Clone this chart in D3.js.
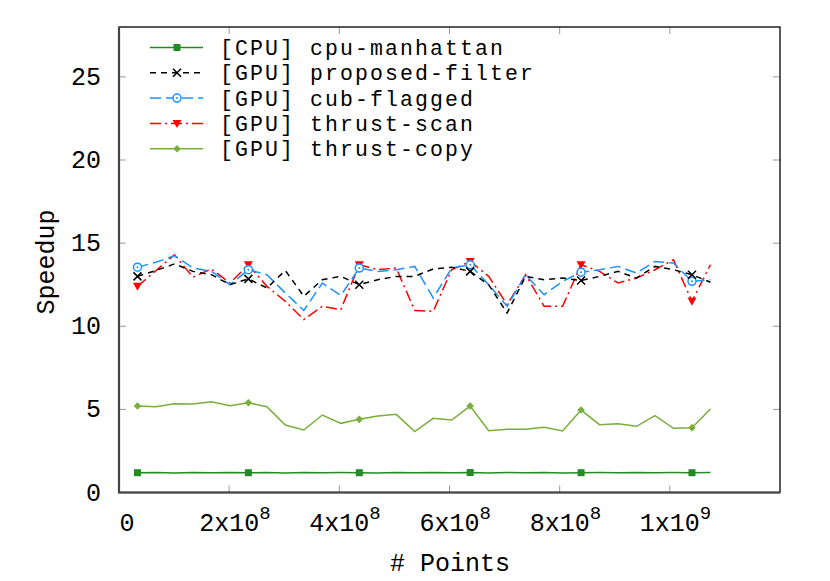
<!DOCTYPE html>
<html><head><meta charset="utf-8">
<script src="https://cdn.jsdelivr.net/npm/d3@7"></script>
<style>body{margin:0;background:#fff}svg{display:block}text{font-family:"Liberation Mono",monospace;fill:#000}</style>
</head><body><svg id="c" width="830" height="581"></svg>
<script>
const xValues = [33554432,67108864,100663296,134217728,167772160,201326592,234881024,268435456,301989888,335544320,369098752,402653184,436207616,469762048,503316480,536870912,570425344,603979776,637534208,671088640,704643072,738197504,771751936,805306368,838860800,872415232,905969664,939524096,973078528,1006632960,1040187392,1073741824];
const cpuManhattan = [1.19,1.20,1.18,1.20,1.19,1.21,1.19,1.20,1.18,1.20,1.19,1.20,1.19,1.18,1.20,1.19,1.21,1.19,1.20,1.18,1.20,1.19,1.20,1.18,1.19,1.20,1.19,1.21,1.19,1.20,1.19,1.21];
const proposedFilter = [13.0,13.35,13.75,13.3,13.1,12.5,12.85,12.3,13.35,11.8,12.8,13.0,12.5,12.8,13.0,13.0,13.45,13.55,13.3,12.5,10.8,13.0,12.8,12.9,12.75,13.0,13.3,12.9,13.6,13.4,13.1,12.65];
const cubFlagged = [13.55,13.85,14.25,13.5,13.3,12.5,13.4,13.1,12.0,10.95,12.6,11.85,13.5,13.3,13.4,13.6,11.7,13.5,13.7,12.5,11.2,13.1,11.9,12.7,13.25,13.4,13.6,13.2,13.9,13.8,12.7,12.8];
const thrustScan = [12.4,13.35,14.3,12.95,13.45,12.6,13.7,12.4,11.5,10.4,11.2,11.0,13.7,13.4,13.5,10.95,10.9,13.4,13.9,13.0,11.3,13.1,11.2,11.2,13.7,13.3,12.6,12.9,13.4,14.0,11.5,13.7];
const thrustCopy = [5.20,5.16,5.34,5.32,5.46,5.22,5.40,5.16,4.06,3.76,4.66,4.16,4.40,4.60,4.70,3.66,4.46,4.36,5.20,3.72,3.80,3.80,3.92,3.70,4.96,4.08,4.14,3.98,4.62,3.86,3.90,5.02];
const seriesNames = ["[CPU] cpu-manhattan","[GPU] proposed-filter","[GPU] cub-flagged","[GPU] thrust-scan","[GPU] thrust-copy"];
const yTicks = [0,5,10,15,20,25];
const xTicks = [0,2e8,4e8,6e8,8e8,1e9];
const xTickBase = ["0","2x10","4x10","6x10","8x10","1x10"];
const xTickExp = ["","8","8","8","8","9"];

const L=119,R=780,T=27,B=492.5;
const x=d3.scaleLinear().domain([0,1.2e9]).range([L,R]);
const y=d3.scaleLinear().domain([0,28]).range([B,T]);
const svg=d3.select("#c");

const styles=[
 {data:cpuManhattan,color:"#228b22",dash:null,marker:"square"},
 {data:proposedFilter,color:"#000000",dash:"6,5",marker:"x"},
 {data:cubFlagged,color:"#1e90ff",dash:"11,5",marker:"circle"},
 {data:thrustScan,color:"#ff0000",dash:"11,4,2,4",marker:"tri"},
 {data:thrustCopy,color:"#79ae3b",dash:null,marker:"diamond"}
];

// ticks (inward, mirrored)
const tg=svg.append("g").attr("stroke","#999").attr("stroke-width",1);
yTicks.forEach(v=>{
  tg.append("line").attr("x1",L).attr("x2",L+7).attr("y1",y(v)).attr("y2",y(v));
  tg.append("line").attr("x1",R).attr("x2",R-7).attr("y1",y(v)).attr("y2",y(v));
});
xTicks.forEach(v=>{
  tg.append("line").attr("x1",x(v)).attr("x2",x(v)).attr("y1",B).attr("y2",B-7);
  tg.append("line").attr("x1",x(v)).attr("x2",x(v)).attr("y1",T).attr("y2",T+7);
});

function drawMarker(g,type,cx,cy,color){
  if(type==="square") g.append("rect").attr("x",cx-3.5).attr("y",cy-3.5).attr("width",7).attr("height",7).attr("fill",color);
  else if(type==="x") g.append("path").attr("d",`M${cx-4},${cy-4}L${cx+4},${cy+4}M${cx-4},${cy+4}L${cx+4},${cy-4}`).attr("stroke",color).attr("stroke-width",1.5).attr("fill","none");
  else if(type==="circle"){ g.append("circle").attr("cx",cx).attr("cy",cy).attr("r",4).attr("fill","#fff").attr("stroke",color).attr("stroke-width",1.5);
    g.append("circle").attr("cx",cx).attr("cy",cy).attr("r",1).attr("fill",color);}
  else if(type==="tri") g.append("path").attr("d",`M${cx-4.5},${cy-3.5}L${cx+4.5},${cy-3.5}L${cx},${cy+4.5}Z`).attr("fill",color);
  else if(type==="diamond") g.append("path").attr("d",`M${cx},${cy-3.8}L${cx+3.8},${cy}L${cx},${cy+3.8}L${cx-3.8},${cy}Z`).attr("fill",color);
}

const line=d3.line().x((d,i)=>x(xValues[i])).y(d=>y(d));
const order=[4,0,3,2,1];
order.forEach(si=>{
  const s=styles[si];
  const g=svg.append("g");
  g.append("path").attr("d",line(s.data)).attr("fill","none").attr("stroke",s.color).attr("stroke-width",1.5)
   .attr("stroke-dasharray",s.dash);
  s.data.forEach((d,i)=>{ if(i%6===0) drawMarker(g,s.marker,x(xValues[i]),y(d),s.color); });
});

// frame
svg.append("rect").attr("x",L).attr("y",T).attr("width",R-L).attr("height",B-T).attr("fill","none").attr("stroke","#222").attr("stroke-width",1.5);
svg.append("path").attr("d",`M${L},${T}L${L},${B}L${R},${B}`).attr("fill","none").attr("stroke","#444").attr("stroke-width",2.2);

// tick labels
yTicks.forEach(v=>{
  svg.append("text").attr("x",101).attr("y",y(v)+8).attr("text-anchor","end").attr("font-size",25).text(v);
});
xTicks.forEach((v,i)=>{
  if(xTickExp[i]===""){
    svg.append("text").attr("x",x(v)+8).attr("y",531).attr("text-anchor","middle").attr("font-size",25).text(xTickBase[i]);
  } else {
    const t=svg.append("text").attr("x",x(v)-30).attr("y",531).attr("font-size",25);
    t.append("tspan").text(xTickBase[i]);
    t.append("tspan").attr("dy",-12).attr("font-size",19).text(xTickExp[i]);
  }
});

// axis titles
svg.append("text").attr("x",450).attr("y",571).attr("text-anchor","middle").attr("font-size",25).text("# Points");
svg.append("text").attr("transform","translate(54,262) rotate(-90)").attr("text-anchor","middle").attr("font-size",25).text("Speedup");

// legend
styles.forEach((s,i)=>{
  const cy=47.5+i*25.3;
  const g=svg.append("g");
  g.append("line").attr("x1",150).attr("x2",203).attr("y1",cy).attr("y2",cy).attr("stroke",s.color).attr("stroke-width",1.5).attr("stroke-dasharray",s.dash);
  drawMarker(g,s.marker,177,cy,s.color);
  g.append("text").attr("x",220).attr("y",cy+7.5).attr("font-size",21.5).attr("letter-spacing",2.1).text(seriesNames[i]);
});
</script></body></html>
